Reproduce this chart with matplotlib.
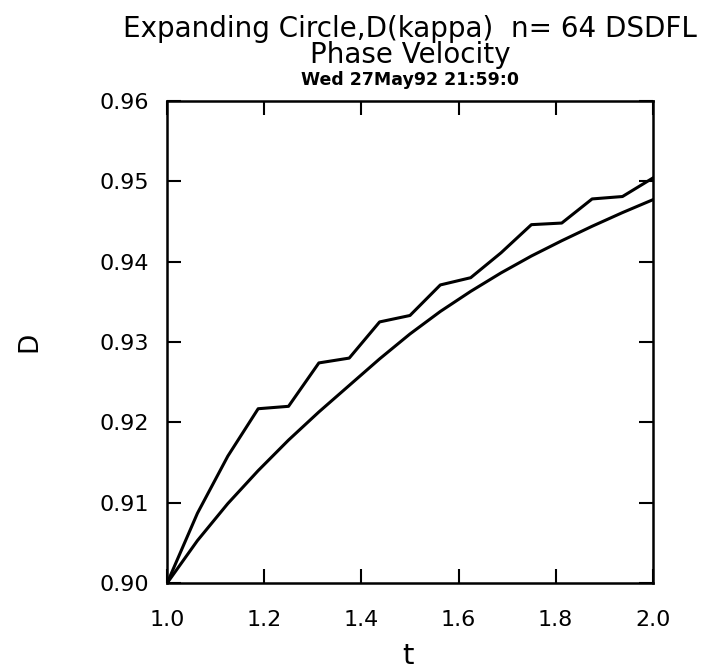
import matplotlib
matplotlib.use("Agg")
import matplotlib.pyplot as plt

# data
t = [1.0, 1.0625, 1.125, 1.1875, 1.25, 1.3125, 1.375, 1.4375, 1.5,
     1.5625, 1.625, 1.6875, 1.75, 1.8125, 1.875, 1.9375, 2.0]
d_numeric = [0.9000, 0.9087, 0.9158, 0.9217, 0.9220, 0.9274, 0.9280, 0.9325, 0.9333,
             0.9371, 0.9380, 0.9411, 0.9446, 0.9448, 0.9478, 0.9481, 0.9504]
d_exact = [0.9000, 0.9053, 0.9099, 0.9140, 0.9178, 0.9213, 0.9246, 0.9279, 0.9310,
           0.9338, 0.9363, 0.9386, 0.9407, 0.9426, 0.9444, 0.9461, 0.9477]

xticks = [1.0, 1.2, 1.4, 1.6, 1.8, 2.0]
yticks = [0.90, 0.91, 0.92, 0.93, 0.94, 0.95, 0.96]

plt.rcParams['font.family'] = ['DejaVu Sans']

fig = plt.figure(figsize=(7.05, 6.68), dpi=100)
ax = fig.add_axes([0.237, 0.127, 0.689, 0.722])

ax.plot(t, d_numeric, color='black', lw=2.2)
ax.plot(t, d_exact, color='black', lw=2.2)

ax.set_xlim(1.0, 2.0)
ax.set_ylim(0.90, 0.96)
ax.set_xticks(xticks)
ax.set_yticks(yticks)
ax.set_xticklabels([f"{v:.1f}" for v in xticks])
ax.set_yticklabels([f"{v:.2f}" for v in yticks])
ax.tick_params(direction='in', length=10, width=1.5, labelsize=16,
               top=True, right=True)
ax.tick_params(axis='x', pad=19)
ax.tick_params(axis='y', pad=13)
for s in ax.spines.values():
    s.set_linewidth(1.8)

ax.set_xlabel('t', fontsize=21, va='center')
ax.xaxis.set_label_coords(0.496, -0.150)
ax.set_ylabel('D', fontsize=19, va='center')
ax.yaxis.set_label_coords(-0.284, 0.5)

xc = 0.5816
fig.text(xc, 1 - 37/668, 'Expanding Circle,D(kappa)  n= 64 DSDFL', fontsize=20,
         ha='center', va='baseline')
fig.text(xc, 1 - 63/668, 'Phase Velocity', fontsize=20, ha='center', va='baseline')
fig.text(xc, 1 - 85/668, 'Wed 27May92 21:59:0', fontsize=12.5, fontweight='bold',
         ha='center', va='baseline')

fig.savefig('out.png', dpi=100)
